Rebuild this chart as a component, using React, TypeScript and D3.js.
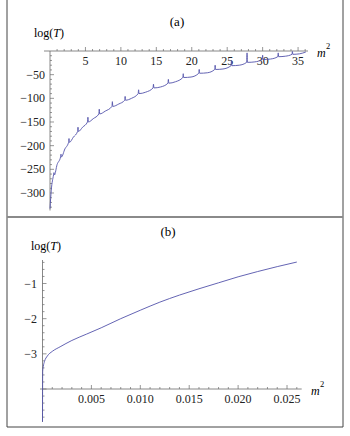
import React from 'react';
import * as d3 from 'd3';

// ---- panel (a): log(T) vs m^2, resonance spikes ----
const startM2 = [0, 0.18];
const startLog = [-333, -294];
const resM2 = [0.56, 1.55, 2.68, 3.95, 5.35, 6.95, 8.8, 10.6, 12.5, 14.6, 16.7, 18.8, 21.05, 23.3, 25.6, 27.8, 30.0, 32.2, 34.2];
const resBase = [-262, -224, -193, -170, -150, -133, -117, -104, -90, -78, -68, -56, -47, -39, -31, -24, -18, -12, -7];
const resPeak = [-257, -218, -185, -161, -140, -123, -107, -96, -82, -70, -60, -48, -39, -30, -20, -4, -9, -4, -1];
const dipM2 = [1.0, 2.1, 3.3, 4.6, 6.1, 7.8, 9.7, 11.5, 13.5, 15.6, 17.7, 19.9, 22.2, 24.4, 26.7, 28.9, 31.1, 33.2, 35.2];
const dipLog = [-240, -207, -182, -161, -143, -127, -112, -100, -87, -76, -65, -55, -46, -38, -30, -23, -17, -11, -6];
const endM2 = 36.1;
const endLog = -2;
const xTicksA = [5, 10, 15, 20, 25, 30, 35];
const yTicksA = [-50, -100, -150, -200, -250, -300];

// ---- panel (b): small m^2 range ----
const m2B = [0, 0.00002, 0.00008, 0.0002, 0.0005, 0.001, 0.0018, 0.003, 0.0045, 0.006, 0.008, 0.010, 0.012, 0.014, 0.016, 0.018, 0.020, 0.022, 0.024, 0.026];
const logB = [-4.93, -3.5, -3.36, -3.22, -3.06, -2.93, -2.8, -2.62, -2.44, -2.26, -2.0, -1.76, -1.53, -1.33, -1.15, -0.98, -0.81, -0.66, -0.52, -0.39];
const xTicksB = [0.005, 0.010, 0.015, 0.020, 0.025];
const yTicksB = [-1, -2, -3];

const lineColor = '#5252aa';
const axisColor = '#6a6a6a';
const font = "'Liberation Serif', 'Times New Roman', serif";
const fmtMinus = d3.format('');

function pointsA(): [number, number][] {
  const pts: [number, number][] = [];
  startM2.forEach((m, i) => pts.push([m, startLog[i]]));
  resM2.forEach((m, i) => {
    pts.push([m - 0.06, resBase[i]]);
    pts.push([m, resPeak[i]]);
    pts.push([m + 0.06, resBase[i]]);
    pts.push([dipM2[i], dipLog[i]]);
  });
  pts.push([endM2, endLog]);
  return pts;
}

const App = () => {
  // panel (a) scales
  const xA = d3.scaleLinear().domain([0, 36.4]).range([50, 308]);
  const yA = d3.scaleLinear().domain([0, -337]).range([51, 210.5]);
  const lineA = d3.line<[number, number]>()
    .x(d => xA(d[0]))
    .y(d => yA(d[1]))
    .curve(d3.curveMonotoneX);

  // panel (b) scales
  const xB = d3.scaleLinear().domain([0, 0.0265]).range([42.5, 301.7]);
  const yB = d3.scaleLinear().domain([-4, -1]).range([389, 283.5]);
  const lineB = d3.line<number>()
    .x((d, i) => xB(m2B[i]))
    .y(d => yB(d))
    .curve(d3.curveMonotoneX);

  const minorXA = d3.range(1, 37);
  const minorYA = d3.range(-10, -337, -10);
  const minorXB = d3.range(1, 27).map(v => v / 1000);
  const minorYB = d3.range(-48, -2, 2).map(v => v / 10);

  return (
    <svg width={350} height={436} style={{ position: 'absolute', left: 0, top: 0, background: '#fff', fontFamily: font }}>
      {/* frame */}
      <line x1={7} y1={0} x2={7} y2={427} stroke="#444" strokeWidth={1} />
      <line x1={343} y1={0} x2={343} y2={427} stroke="#444" strokeWidth={1} />
      <line x1={7} y1={427} x2={343} y2={427} stroke="#444" strokeWidth={1} />
      <line x1={7} y1={217} x2={343} y2={217} stroke="#8a8a8a" strokeWidth={2} />

      {/* ===== panel (a) ===== */}
      <text x={177} y={26} fontSize={13} textAnchor="middle">(a)</text>
      <text x={49} y={37} fontSize={12} textAnchor="middle">log(<tspan fontStyle="italic">T</tspan>)</text>
      <line x1={44} y1={yA(0)} x2={308} y2={yA(0)} stroke={axisColor} strokeWidth={0.8} />
      <line x1={xA(0)} y1={yA(0)} x2={xA(0)} y2={yA(-337)} stroke={axisColor} strokeWidth={0.8} />
      {minorXA.map(v => (
        <line key={'mxa' + v} x1={xA(v)} x2={xA(v)} y1={yA(0)} y2={yA(0) - (v % 5 === 0 ? 4 : 2)}
          stroke={axisColor} strokeWidth={0.7} />
      ))}
      {minorYA.map(v => (
        <line key={'mya' + v} x1={xA(0)} x2={xA(0) + (v % 50 === 0 ? 4 : 2)} y1={yA(v)} y2={yA(v)}
          stroke={axisColor} strokeWidth={0.7} />
      ))}
      {xTicksA.map(v => (
        <text key={'xa' + v} x={xA(v)} y={65} fontSize={12} textAnchor="middle" fill="#222">{v}</text>
      ))}
      {yTicksA.map(v => (
        <text key={'ya' + v} x={45} y={yA(v) + 4} fontSize={12} textAnchor="end" fill="#222">{fmtMinus(v)}</text>
      ))}
      <text x={317} y={57} fontSize={12} fontStyle="italic">m</text>
      <text x={326} y={49} fontSize={8.5}>2</text>
      <path d={lineA(pointsA()) || ''} fill="none" stroke={lineColor} strokeWidth={0.9} />

      {/* ===== panel (b) ===== */}
      <text x={168} y={236} fontSize={13} textAnchor="middle">(b)</text>
      <text x={46} y={250} fontSize={12} textAnchor="middle">log(<tspan fontStyle="italic">T</tspan>)</text>
      <line x1={40} y1={yB(-4)} x2={301.7} y2={yB(-4)} stroke={axisColor} strokeWidth={0.8} />
      <line x1={xB(0)} y1={260} x2={xB(0)} y2={422} stroke={axisColor} strokeWidth={0.8} />
      {minorXB.map((v, i) => (
        <line key={'mxb' + i} x1={xB(v)} x2={xB(v)} y1={yB(-4)} y2={yB(-4) - ((i + 1) % 5 === 0 ? 4 : 2)}
          stroke={axisColor} strokeWidth={0.7} />
      ))}
      {minorYB.map((v, i) => (
        <line key={'myb' + i} x1={xB(0)} x2={xB(0) + (Math.abs(v - Math.round(v)) < 1e-6 ? 4 : 2)} y1={yB(v)} y2={yB(v)}
          stroke={axisColor} strokeWidth={0.7} />
      ))}
      {xTicksB.map(v => (
        <text key={'xb' + v} x={xB(v)} y={403} fontSize={12} textAnchor="middle" fill="#222">{d3.format('.3f')(v)}</text>
      ))}
      {yTicksB.map(v => (
        <text key={'yb' + v} x={37} y={yB(v) + 4} fontSize={12} textAnchor="end" fill="#222">{fmtMinus(v)}</text>
      ))}
      <text x={311} y={395} fontSize={12} fontStyle="italic">m</text>
      <text x={320} y={387} fontSize={8.5}>2</text>
      <path d={lineB(logB) || ''} fill="none" stroke={lineColor} strokeWidth={0.9} />
    </svg>
  );
};

export default App;
